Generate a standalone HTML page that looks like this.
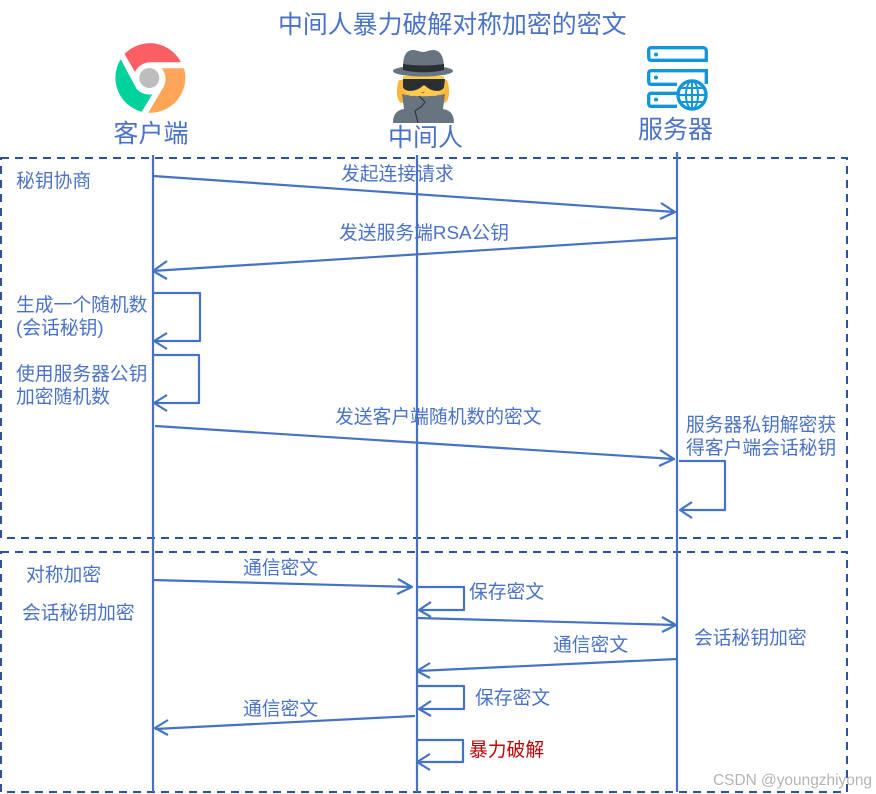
<!DOCTYPE html>
<html>
<head>
<meta charset="utf-8">
<style>
html,body{margin:0;padding:0;background:#fff;width:876px;height:794px;overflow:hidden}
svg{display:block}
text{font-family:"Liberation Sans","Noto Sans CJK SC",sans-serif;fill:#4a72c8}
.l{font-size:18.8px}
.h{font-size:25px}
.ln{fill:none;stroke:#4472c4;stroke-width:2.2;stroke-linejoin:round}
</style>
</head>
<body>
<svg width="876" height="794" viewBox="0 0 876 794" xmlns="http://www.w3.org/2000/svg">
<rect width="876" height="794" fill="#fff"/>

<!-- dashed frames -->
<rect x="1" y="158" width="846" height="380" fill="none" stroke="#2f52a0" stroke-width="2" stroke-dasharray="8 6"/>
<rect x="1" y="552" width="846" height="240" fill="none" stroke="#2f52a0" stroke-width="2" stroke-dasharray="8 6"/>

<!-- lifelines -->
<g class="ln">
<path d="M153 155V792M417 155V792M677 152V792"/>

<!-- messages -->
<path d="M153 176L675 212M661 203L675 212L660 219"/>
<path d="M677 238L152 271M167 261L153 271L167 279"/>
<path d="M153 293H200V341H154M167 333L154 341L167 349"/>
<path d="M153 355H199V403H154M167 395L154 403L167 411"/>
<path d="M155 426L674 459M660 450L674 459L659 466"/>
<path d="M679 461H725V510H680M692 502L680 510L692 518"/>
<path d="M153 580L412 587M398 579L412 587L397 594"/>
<path d="M417 587H464V610H419M431 602L419 610L431 617"/>
<path d="M417 618L676 625M662 617L676 625L662 632"/>
<path d="M677 659L417 671M430 663L417 671L430 678"/>
<path d="M417 686H464V709H419M431 701L419 709L431 716"/>
<path d="M415 716L155 729M168 720L155 728L168 735"/>
<path d="M417 740H463V762H417M430 754L417 762L430 770"/>
</g>

<!-- Title -->
<text x="278" y="33" style="font-size:24.9px">中间人暴力破解对称加密的密文</text>

<!-- chrome icon -->
<path d="M124.500 54A35 35 0 0 1 181 62.300H150A17 17 0 0 0 135 72Z" fill="#fb5f63"/>
<path d="M161.700 68.300H184A35 35 0 0 1 148.300 112.700L161.700 90A17 17 0 0 0 161.700 68.300Z" fill="#fea557"/>
<path d="M120.700 59.300L136.700 89A17 17 0 0 0 152.300 94.300L141.700 111.700A35 35 0 0 1 120.700 59.300Z" fill="#00d29c"/>
<circle cx="149.300" cy="78" r="10" fill="#bdbdbd"/>

<!-- spy icon -->
<path d="M399 80C395 90 397 103 402 103L410 99V80Z" fill="#fdb53b"/>
<path d="M447 80C451 90 449 103 444 103L436 99V80Z" fill="#fdb53b"/>
<path d="M403 76H444V88C444 94 432 97 423 97C414 97 403 94 403 88Z" fill="#ffcb4c"/>
<path d="M403 79H445L444 87C443 92 433 92 428 88L424 85L420 88C414 92 404 92 403 87Z" fill="#292f33"/>
<path d="M393 123C393 113 398 110 404 109L402 94C412 97 434 97 445 94L443 109C449 110 454 113 454 123Z" fill="#66757f"/>
<path d="M419 96L425 102L421 107L415 111L418 123" fill="none" stroke="#292f33" stroke-width="1"/>
<ellipse cx="423" cy="71" rx="30" ry="5.500" fill="#66757f"/>
<path d="M403 68C403 56 406 50 413 50C417 50 420 52 423 52C426 52 429 50 433 50C440 50 444 56 444 68Z" fill="#66757f"/>
<path d="M403 64C415 66 432 66 444 64V70C432 73 415 73 403 70Z" fill="#292f33"/>
<path d="M421 92H425L423 93.500Z" fill="#c1694f"/>

<!-- server icon -->
<g fill="none" stroke="#1296db" stroke-width="3.400">
<path d="M651 47.700H703C705 47.700 706.300 49 706.300 51V60.300H651C649 60.300 648.700 59 648.700 57V51C648.700 49 649 47.700 651 47.700Z"/>
<path d="M706.300 84V70.700H651C649 70.700 648.700 72 648.700 74V81C648.700 83 649 84.300 651 84.300H677"/>
<path d="M677 93.300H651C649 93.300 648.700 94.500 648.700 96.500V103C648.700 105 649 106.300 651 106.300H677"/>
<circle cx="692" cy="95" r="14"/>
<ellipse cx="692" cy="95" rx="6" ry="14" stroke-width="2"/>
<path d="M678 95H706M680 88H704M680 102H704M692 81V109" stroke-width="2"/>
</g>
<g fill="#1296db"><circle cx="656" cy="54.500" r="2"/><circle cx="656" cy="77.500" r="2"/><circle cx="656" cy="99.500" r="2"/></g>

<!-- lifeline headers -->
<text x="113.500" y="142" class="h">客户端</text>
<text x="388" y="146" class="h">中间人</text>
<text x="638" y="138" class="h">服务器</text>

<!-- labels -->
<text x="16" y="187" class="l">秘钥协商</text>
<text x="341" y="180" class="l">发起连接请求</text>
<text x="339" y="239" class="l">发送服务端RSA公钥</text>
<text x="16" y="311" class="l">生成一个随机数</text>
<text x="16" y="334" class="l">(会话秘钥)</text>
<text x="16" y="380" class="l">使用服务器公钥</text>
<text x="16" y="403" class="l">加密随机数</text>
<text x="335" y="423" class="l">发送客户端随机数的密文</text>
<text x="686" y="431" class="l">服务器私钥解密获</text>
<text x="686" y="454" class="l">得客户端会话秘钥</text>
<text x="26" y="581" class="l">对称加密</text>
<text x="22" y="619" class="l">会话秘钥加密</text>
<text x="243" y="574" class="l">通信密文</text>
<text x="469" y="598" class="l">保存密文</text>
<text x="694" y="644" class="l">会话秘钥加密</text>
<text x="553" y="651" class="l">通信密文</text>
<text x="475" y="704" class="l">保存密文</text>
<text x="243" y="715" class="l">通信密文</text>
<text x="469" y="756" class="l" style="fill:#c00000">暴力破解</text>

<!-- watermark -->
<text x="713" y="785" textLength="159" lengthAdjust="spacingAndGlyphs" style="font-size:16px;fill:#b4b4b4">CSDN @youngzhiyong</text>
</svg>
</body>
</html>
